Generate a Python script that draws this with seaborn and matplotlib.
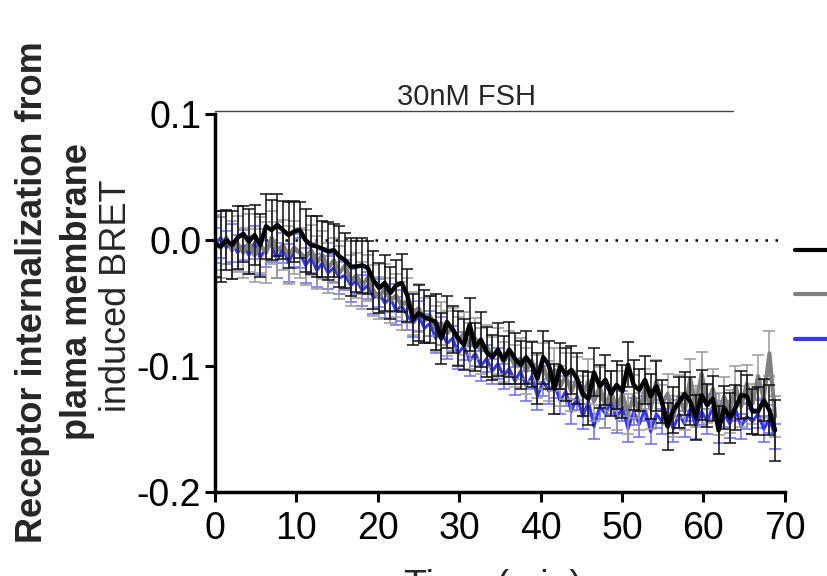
import numpy as np
import pandas as pd
import matplotlib
matplotlib.use('Agg')
import matplotlib.pyplot as plt
from matplotlib.lines import Line2D
import seaborn as sns

# time points (min), one read every ~0.7 min
time_min = np.round(np.arange(100) * 0.695, 2)

labels = ['FSHR', 'FSHR + Gs', 'FSHR + Gi']

black_mean = [
    -0.003, -0.005, 0.000, -0.004, 0.002, 0.005, -0.001, 0.004, -0.004, 0.011,
    0.008, 0.012, 0.008, 0.004, 0.007, 0.008, 0.000, -0.004, -0.005, -0.007,
    -0.009, -0.008, -0.013, -0.016, -0.021, -0.021, -0.020, -0.022, -0.032, -0.038,
    -0.034, -0.042, -0.036, -0.034, -0.044, -0.063, -0.058, -0.061, -0.063, -0.065,
    -0.078, -0.065, -0.071, -0.078, -0.083, -0.067, -0.085, -0.079, -0.089, -0.093,
    -0.087, -0.095, -0.087, -0.094, -0.099, -0.093, -0.099, -0.110, -0.093, -0.099,
    -0.118, -0.100, -0.107, -0.103, -0.110, -0.122, -0.126, -0.105, -0.116, -0.111,
    -0.122, -0.115, -0.120, -0.099, -0.115, -0.119, -0.111, -0.124, -0.116, -0.128,
    -0.148, -0.135, -0.129, -0.122, -0.128, -0.141, -0.123, -0.131, -0.126, -0.151,
    -0.133, -0.141, -0.133, -0.123, -0.124, -0.136, -0.136, -0.127, -0.135, -0.151,
]
black_sem = [
    0.026, 0.028, 0.024, 0.027, 0.025, 0.022, 0.026, 0.024, 0.025, 0.026,
    0.024, 0.025, 0.023, 0.026, 0.024, 0.022, 0.025, 0.023, 0.024, 0.022,
    0.023, 0.021, 0.024, 0.022, 0.023, 0.020, 0.022, 0.021, 0.023, 0.020,
    0.022, 0.021, 0.020, 0.023, 0.021, 0.020, 0.022, 0.021, 0.019, 0.022,
    0.020, 0.021, 0.019, 0.022, 0.020, 0.021, 0.019, 0.022, 0.020, 0.018,
    0.021, 0.019, 0.022, 0.020, 0.019, 0.021, 0.018, 0.020, 0.021, 0.019,
    0.020, 0.018, 0.021, 0.019, 0.020, 0.018, 0.021, 0.019, 0.017, 0.020,
    0.018, 0.019, 0.021, 0.018, 0.020, 0.017, 0.019, 0.018, 0.020, 0.017,
    0.019, 0.018, 0.020, 0.017, 0.019, 0.018, 0.020, 0.017, 0.018, 0.019,
    0.017, 0.020, 0.018, 0.019, 0.017, 0.018, 0.019, 0.017, 0.020, 0.024,
]

gray_mean = [
    -0.002, -0.006, 0.002, -0.008, -0.003, -0.010, -0.002, -0.012, -0.004, -0.010,
    0.002, -0.008, -0.004, -0.012, -0.006, -0.010, -0.014, -0.008, -0.018, -0.012,
    -0.022, -0.016, -0.026, -0.020, -0.032, -0.028, -0.036, -0.030, -0.040, -0.046,
    -0.038, -0.048, -0.044, -0.052, -0.048, -0.058, -0.054, -0.064, -0.060, -0.070,
    -0.066, -0.074, -0.070, -0.080, -0.074, -0.084, -0.078, -0.088, -0.084, -0.093,
    -0.088, -0.097, -0.090, -0.100, -0.094, -0.104, -0.096, -0.108, -0.100, -0.112,
    -0.103, -0.116, -0.108, -0.120, -0.110, -0.124, -0.112, -0.128, -0.116, -0.132,
    -0.120, -0.134, -0.122, -0.138, -0.124, -0.136, -0.118, -0.134, -0.112, -0.130,
    -0.122, -0.140, -0.124, -0.136, -0.110, -0.132, -0.106, -0.130, -0.118, -0.138,
    -0.124, -0.136, -0.116, -0.132, -0.114, -0.130, -0.108, -0.126, -0.090, -0.140,
]
gray_sem = [
    0.022, 0.024, 0.021, 0.023, 0.022, 0.020, 0.023, 0.021, 0.022, 0.024,
    0.021, 0.022, 0.020, 0.023, 0.021, 0.020, 0.022, 0.020, 0.021, 0.019,
    0.020, 0.018, 0.021, 0.019, 0.020, 0.018, 0.019, 0.018, 0.020, 0.017,
    0.019, 0.018, 0.017, 0.019, 0.018, 0.017, 0.019, 0.018, 0.016, 0.018,
    0.017, 0.018, 0.016, 0.019, 0.017, 0.018, 0.016, 0.018, 0.017, 0.016,
    0.018, 0.016, 0.018, 0.017, 0.016, 0.018, 0.016, 0.017, 0.018, 0.016,
    0.017, 0.016, 0.018, 0.016, 0.017, 0.016, 0.018, 0.016, 0.015, 0.017,
    0.016, 0.017, 0.018, 0.016, 0.017, 0.015, 0.016, 0.016, 0.017, 0.015,
    0.016, 0.016, 0.017, 0.015, 0.016, 0.016, 0.017, 0.015, 0.016, 0.017,
    0.015, 0.017, 0.016, 0.016, 0.015, 0.016, 0.017, 0.015, 0.018, 0.016,
]

blue_mean = [
    -0.004, 0.002, -0.006, -0.002, -0.010, -0.004, -0.012, -0.002, -0.014, -0.006,
    -0.004, -0.016, -0.006, -0.018, -0.008, -0.010, -0.020, -0.014, -0.024, -0.018,
    -0.026, -0.022, -0.030, -0.028, -0.036, -0.032, -0.040, -0.036, -0.046, -0.042,
    -0.050, -0.046, -0.056, -0.052, -0.060, -0.066, -0.060, -0.070, -0.066, -0.078,
    -0.072, -0.082, -0.078, -0.090, -0.084, -0.096, -0.090, -0.100, -0.094, -0.104,
    -0.098, -0.108, -0.102, -0.112, -0.104, -0.116, -0.108, -0.124, -0.112, -0.120,
    -0.114, -0.128, -0.120, -0.136, -0.124, -0.140, -0.128, -0.148, -0.132, -0.138,
    -0.128, -0.142, -0.132, -0.150, -0.136, -0.146, -0.134, -0.152, -0.138, -0.144,
    -0.136, -0.150, -0.138, -0.146, -0.134, -0.148, -0.136, -0.144, -0.132, -0.150,
    -0.138, -0.146, -0.134, -0.148, -0.140, -0.144, -0.138, -0.150, -0.142, -0.156,
]
blue_sem = [
    0.014, 0.016, 0.013, 0.015, 0.014, 0.012, 0.015, 0.013, 0.014, 0.015,
    0.013, 0.014, 0.012, 0.015, 0.013, 0.012, 0.014, 0.012, 0.013, 0.012,
    0.013, 0.011, 0.013, 0.012, 0.013, 0.011, 0.012, 0.011, 0.013, 0.011,
    0.012, 0.011, 0.011, 0.012, 0.011, 0.011, 0.012, 0.011, 0.010, 0.012,
    0.011, 0.012, 0.010, 0.012, 0.011, 0.012, 0.010, 0.012, 0.011, 0.010,
    0.012, 0.010, 0.012, 0.011, 0.010, 0.012, 0.010, 0.011, 0.012, 0.010,
    0.011, 0.010, 0.012, 0.010, 0.011, 0.010, 0.012, 0.010, 0.010, 0.011,
    0.010, 0.011, 0.012, 0.010, 0.011, 0.010, 0.010, 0.010, 0.011, 0.010,
    0.010, 0.010, 0.011, 0.010, 0.010, 0.010, 0.011, 0.010, 0.010, 0.011,
    0.010, 0.011, 0.010, 0.010, 0.010, 0.010, 0.011, 0.010, 0.011, 0.010,
]

sns.set_style('ticks')
plt.rcParams['font.family'] = ['Liberation Sans', 'DejaVu Sans']

fig = plt.figure(figsize=(8.27, 5.76), dpi=100)
ax = fig.add_axes([0.26, 0.1458, 0.689, 0.656])

series = [
    (labels[2], blue_mean, blue_sem, '#3535ff', '#6a6aff', 2.2),
    (labels[1], gray_mean, gray_sem, '#808080', '#999999', 3.0),
    (labels[0], black_mean, black_sem, '#000000', '#111111', 3.2),
]

for name, mean, sem, col, ecol, lw in series:
    ax.errorbar(time_min, mean, yerr=sem, fmt='none', ecolor=ecol,
                elinewidth=1.1, capsize=4.5, capthick=1.1)
    sns.lineplot(x=time_min, y=mean, ax=ax, color=col, linewidth=lw)

ax.axhline(0, color='black', linestyle=(0, (1, 3)), linewidth=1.8, zorder=0)

# stimulation bar
ax.plot([0, 63.6], [0.1025, 0.1025], color='#444444', linewidth=1.0, clip_on=False)
ax.text(30.9, 0.1135, '30nM FSH', ha='center', va='center', fontsize=21)

ax.set_xlim(0, 70)
ax.set_ylim(-0.2, 0.1)
ax.set_xticks(range(0, 71, 10))
ax.set_yticks([-0.2, -0.1, 0.0, 0.1])
ax.set_yticklabels(['-0.2', '-0.1', '0.0', '0.1'])
ax.tick_params(axis='both', labelsize=27, width=2.2, length=7, direction='out',
               color='black', labelcolor='black')
ax.tick_params(axis='x', pad=7)
ax.tick_params(axis='y', pad=3)
for s in ['top', 'right']:
    ax.spines[s].set_visible(False)
for s in ['left', 'bottom']:
    ax.spines[s].set_linewidth(2.5)
    ax.spines[s].set_color('black')
ax.set_xlabel('')
ax.set_ylabel('')

# legend keys at the right edge (their labels fall outside the crop)
keys = [Line2D([], [], color=c, linewidth=3) for c in ['#000000', '#808080', '#3535ff']]
ax.legend(keys, ['', '', ''], loc='center left', bbox_to_anchor=(795 / 827, 0.486),
          bbox_transform=fig.transFigure, frameon=False, fontsize=18,
          borderpad=0, borderaxespad=0, handlelength=2.5, labelspacing=0.82)

# axis titles
fig.text(493 / 827, 7 / 576, 'Time (min)', ha='center', va='top', fontsize=27)
fig.text(33 / 827, 1 - 292 / 576, 'Receptor internalization from', rotation=90,
         ha='center', va='center', fontsize=26, fontweight='bold')
fig.text(78 / 827, 1 - 292 / 576, 'plama membrane', rotation=90,
         ha='center', va='center', fontsize=26, fontweight='bold')
fig.text(116 / 827, 1 - 296 / 576, 'induced BRET', rotation=90,
         ha='center', va='center', fontsize=26)

fig.savefig('out.png', dpi=100)
